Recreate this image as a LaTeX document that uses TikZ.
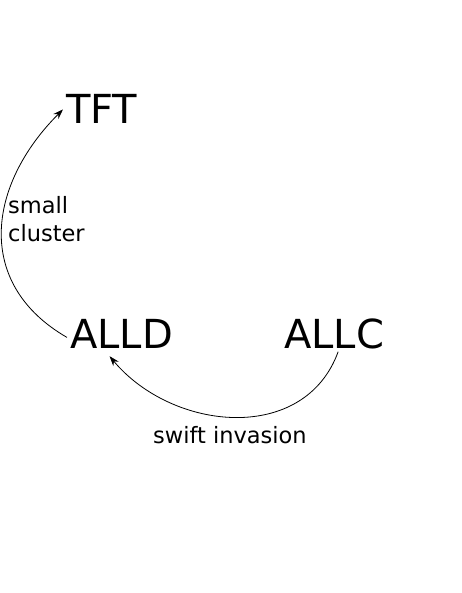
\documentclass[tikz,border=0pt]{standalone}
\usepackage{fontspec}
\setmainfont{DejaVu Sans}
\usetikzlibrary{arrows.meta}

\begin{document}
\begin{tikzpicture}
[x=1pt,y=-1pt,every node/.style={inner sep=3pt},
 big/.style={font=\fontsize{40}{48}\selectfont,anchor=base west},
 note/.style={font=\fontsize{22.5}{28}\selectfont,align=left},
 edge/.style={line width=0.8pt,-{Stealth[length=10pt,width=7pt]}}]
\useasboundingbox (0,0) rectangle (462,593);
\node[big] (tft) at (63,124) {TFT};
\node[big] (alld) at (67,348) {ALLD};
\node[big] (allc) at (281,348) {ALLC};
\node[note,anchor=north west] (small) at (5,193) {small\\cluster};
\node[note,anchor=base west] (swift) at (150,443) {swift invasion};
\draw[edge] ([yshift=-4pt]alld.west) to[out=150,in=225,looseness=1.2] (tft.west);
\draw[edge] ([xshift=4pt]allc.south) to[out=-110,in=-50,looseness=1.1] ([xshift=-12pt,yshift=-5pt]alld.south);
\end{tikzpicture}
\end{document}
